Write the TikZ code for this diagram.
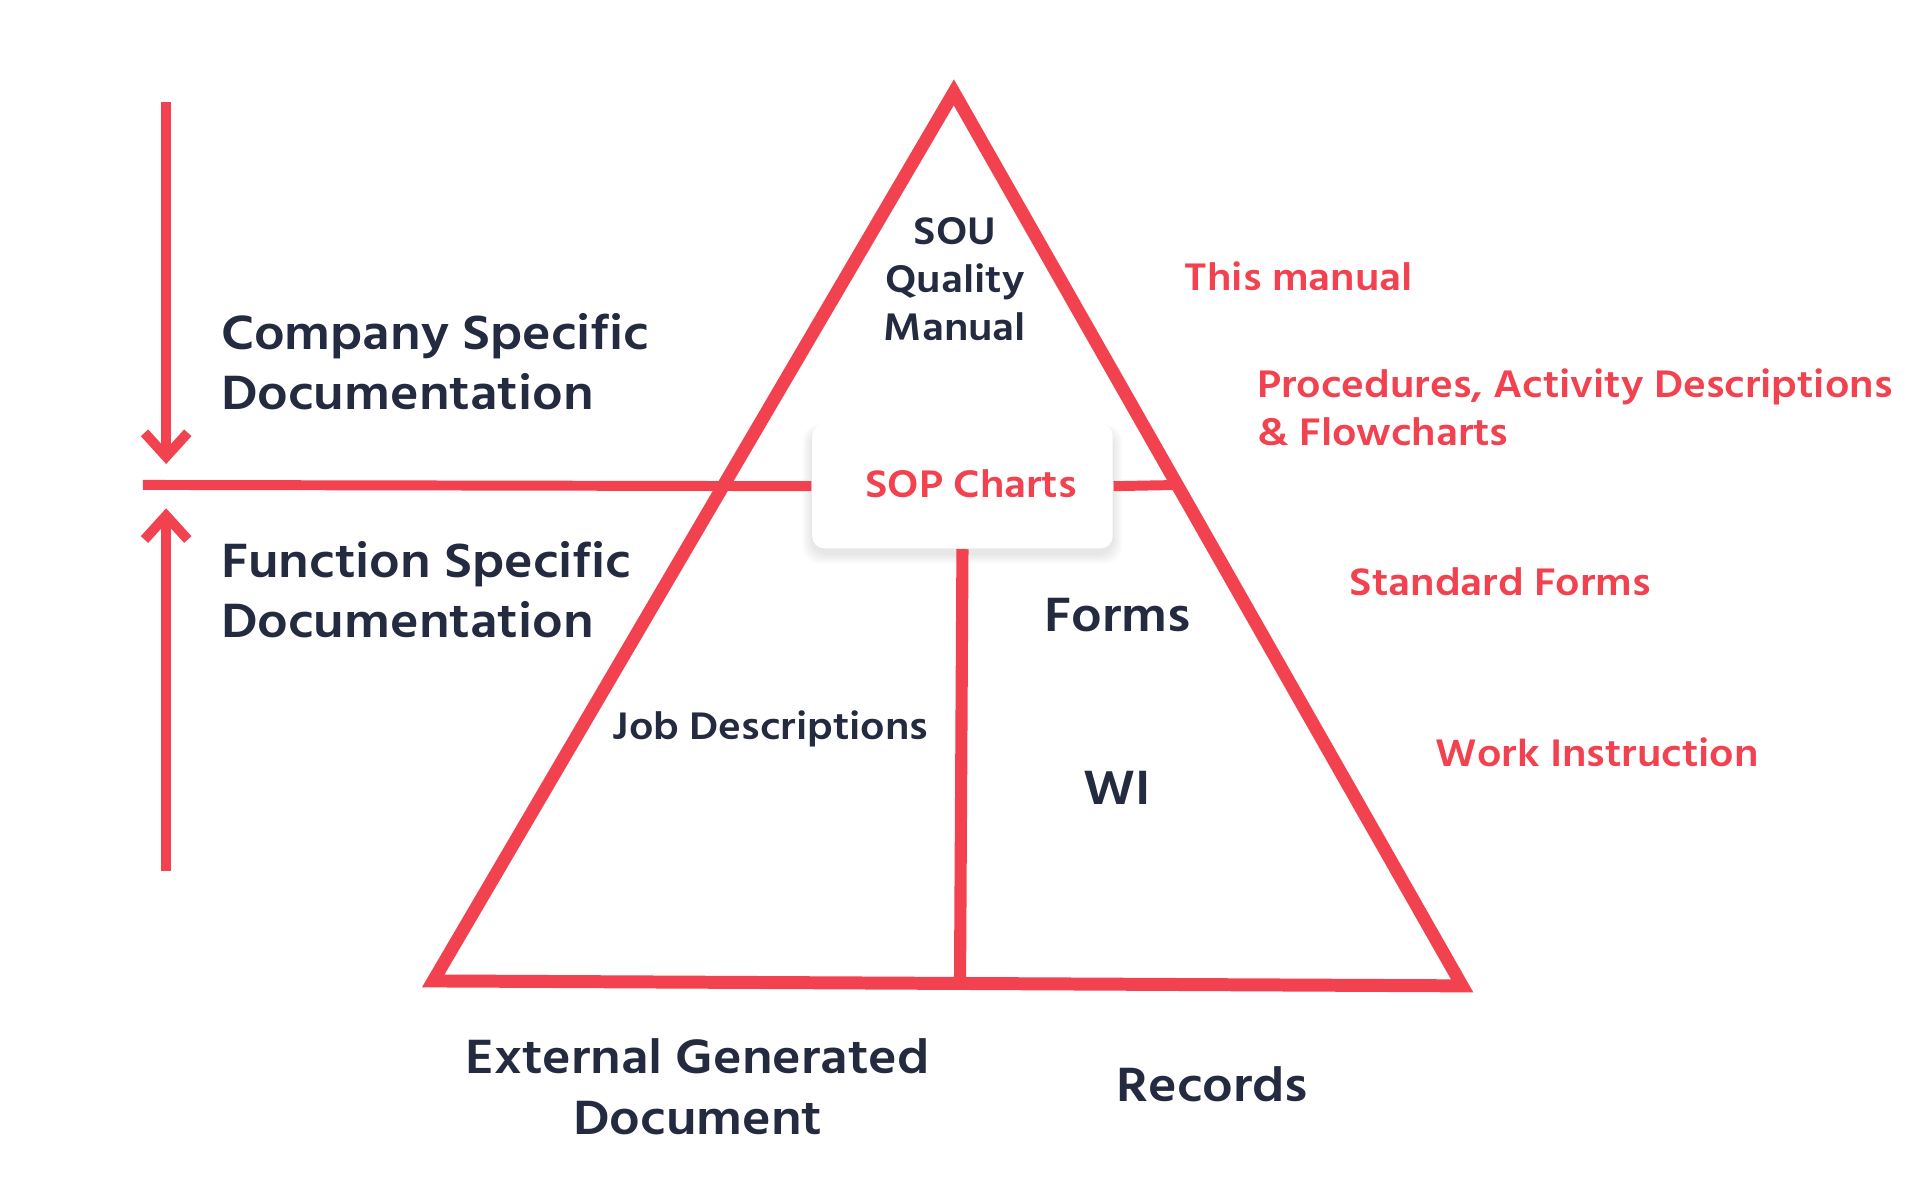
\documentclass[tikz,border=0pt]{standalone}
\usepackage{fontspec}
\IfFontExistsTF{Hind Siliguri SemiBold}
  {\setmainfont{Hind Siliguri SemiBold}[FakeStretch=1.1]}
  {\setmainfont{Hind Siliguri}[FakeBold=1,FakeStretch=1.1]}
\usetikzlibrary{arrows.meta}
\definecolor{docred}{HTML}{F2414F}
\definecolor{doctext}{HTML}{242A3F}

\begin{document}
\begin{tikzpicture}[x=0.01cm,y=-0.01cm,
                   redline/.style={draw=docred,line width=2.3pt},
                   bigtxt/.style={text=doctext,font=\fontsize{11.4}{13.9}\selectfont},
                   smalltxt/.style={text=doctext,font=\fontsize{9.1}{11.1}\selectfont},
                   redtxt/.style={text=docred,font=\fontsize{9.1}{11.1}\selectfont,anchor=west,align=left,inner sep=0pt},
                   sopbox/.style={fill=white,rounded corners=2.8pt,minimum width=2.44cm,minimum height=1.01cm}]
\useasboundingbox (0,0) rectangle (1560,963.6);
% pyramid
\coordinate (apex) at (775,75);
\coordinate (bl) at (352,797);
\coordinate (br) at (1188,801);
\coordinate (base) at (780,799);
\coordinate (hl) at (116,394);
\coordinate (hr) at (958,394);
\draw[redline,line width=3pt,line join=miter] (apex) -- (bl) -- (br) -- cycle;
% soft shadow under the chart box
\foreach \s in {1,...,8}
  \fill[black,opacity=0.012,rounded corners=4pt] (660-\s,349-0.5*\s) rectangle (904+\s,450+\s);
\node[sopbox] (sop) at (782,395) {};
\draw[redline] (hl) -- (sop.west);
\draw[redline] (sop.east) -- (hr);
\draw[redline,line width=2.8pt] (sop.south) -- (base);
\node[text=docred,font=\fontsize{9.1}{11.1}\selectfont] (soptxt) at (789,393) {SOP Charts};
% arrows
\coordinate (downtop) at (135,83);
\coordinate (downtip) at (135,377);
\coordinate (upbot) at (135,708);
\coordinate (uptip) at (135,413);
\draw[redline,-{Straight Barb[length=5.5pt,width=10pt]}] (downtop) -- (downtip);
\draw[redline,-{Straight Barb[length=5.5pt,width=10pt]}] (upbot) -- (uptip);
% labels
\node[bigtxt,anchor=west,align=left,inner sep=0pt] (company) at (179,294) {Company Specific\\Documentation};
\node[bigtxt,anchor=west,align=left,inner sep=0pt] (function) at (179,479) {Function Specific\\Documentation};
\node[smalltxt,align=center] (sou) at (776,227) {SOU\\Quality\\Manual};
\node[smalltxt] (job) at (626,592) {Job Descriptions};
\node[bigtxt] (forms) at (908,500) {Forms};
\node[bigtxt] (wi) at (908,640) {WI};
\node[bigtxt,align=center] (external) at (567,883) {External Generated\\Document};
\node[bigtxt] (records) at (985,881) {Records};
\node[redtxt] (manual) at (962,224) {This manual};
\node[redtxt] (proc) at (1021,331) {Procedures, Activity Descriptions\\\& Flowcharts};
\node[redtxt] (stdforms) at (1096,473) {Standard Forms};
\node[redtxt] (workins) at (1166,611) {Work Instruction};
\end{tikzpicture}
\end{document}
